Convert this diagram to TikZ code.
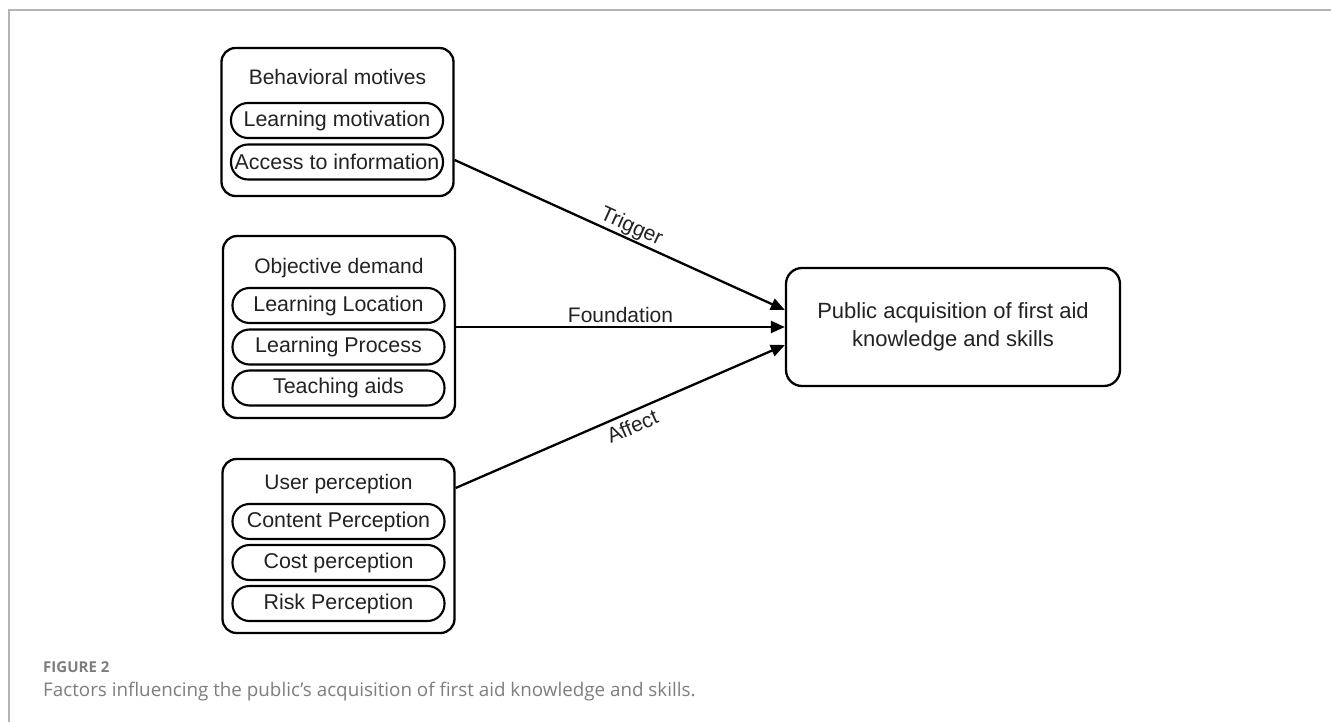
\documentclass[tikz,border=0pt]{standalone}
\usepackage{fontspec}
\setmainfont{Liberation Sans}
\newfontfamily\capfont{Open Sans}
\usetikzlibrary{arrows.meta,calc}
\definecolor{framegray}{HTML}{B4B4B4}
\definecolor{inkdark}{HTML}{222222}
\definecolor{capgray}{HTML}{7E7E7E}
\begin{document}
\begin{tikzpicture}[x=1pt,y=-1pt,
  group/.style={draw=black, line width=2.3pt, rounded corners=14pt,
    minimum width=232pt, inner sep=0pt},
  heading/.style={text=inkdark, font=\fontsize{21}{25}\selectfont, inner sep=0pt},
  pill/.style={draw=black, line width=2.1pt, rounded corners=17pt,
    minimum width=212pt, minimum height=35pt, inner sep=0pt,
    text=inkdark, font=\fontsize{21.4}{25}\selectfont},
  target/.style={draw=black, line width=2.3pt, rounded corners=16pt,
    minimum width=334pt, minimum height=118pt, align=center,
    text=inkdark, font=\fontsize{22}{28}\selectfont},
  link/.style={draw=black, line width=2.3pt, -{Triangle[length=14pt,width=12pt]}},
  linklabel/.style={text=inkdark, font=\fontsize{21}{25}\selectfont}
]
\useasboundingbox (0,0) rectangle (1331,722);
\fill[white] (0,0) rectangle (1331,722);

% figure frame (left and top rules)
\draw[framegray, line width=2pt] (9,722) -- (9,10) -- (1331,10);

% group 1: behavioral motives
\node[group, minimum height=148pt] (b1) at (337.5,122) {};
\node[heading] (b1t) at (337.5,77) {Behavioral motives};
\node[pill] (p11) at (337,120.5) {Learning motivation};
\node[pill] (p12) at (337,162) {Access to information};

% group 2: objective demand
\node[group, minimum height=182pt] (b2) at (339,327) {};
\node[heading] (b2t) at (339,268) {Objective demand};
\node[pill] (p21) at (338.5,305.5) {Learning Location};
\node[pill] (p22) at (338.5,347) {Learning Process};
\node[pill] (p23) at (338.5,388) {Teaching aids};

% group 3: user perception
\node[group, minimum height=174pt] (b3) at (338.5,546) {};
\node[heading] (b3t) at (338.5,484) {User perception};
\node[pill] (p31) at (338.5,521.5) {Content Perception};
\node[pill] (p32) at (338.5,562.5) {Cost perception};
\node[pill] (p33) at (338.5,603.5) {Risk Perception};

% outcome
\node[target] (tgt) at (953,327) {Public acquisition of first aid\\knowledge and skills};

% connector end points
\coordinate (s1) at ($(b1.east)+(0,38)$);
\coordinate (s3) at ($(b3.east)+(0,-58)$);
\coordinate (e1) at ($(tgt.west)+(0,-17)$);
\coordinate (e3) at ($(tgt.west)+(0,18)$);

\draw[link] (s1) -- node[linklabel, pos=0.52, sloped, above, inner sep=1pt] (l1) {Trigger} (e1);
\draw[link] (b2.east) -- node[linklabel, pos=0.5, above, inner sep=3pt] (l2) {Foundation} (tgt.west);
\draw[link] (s3) -- node[linklabel, pos=0.52, sloped, below, inner sep=5pt] (l3) {Affect} (e3);

% caption
\node[anchor=base west, inner sep=0pt, text=capgray,
  font=\capfont\bfseries\fontsize{15}{17}\selectfont] (fig) at (43,672) {FIGURE 2};
\node[anchor=base west, inner sep=0pt, text=capgray,
  font=\capfont\fontsize{18.8}{22}\selectfont] (cap) at (43,696)
  {Factors influencing the public’s acquisition of first aid knowledge and skills.};
\end{tikzpicture}
\end{document}
